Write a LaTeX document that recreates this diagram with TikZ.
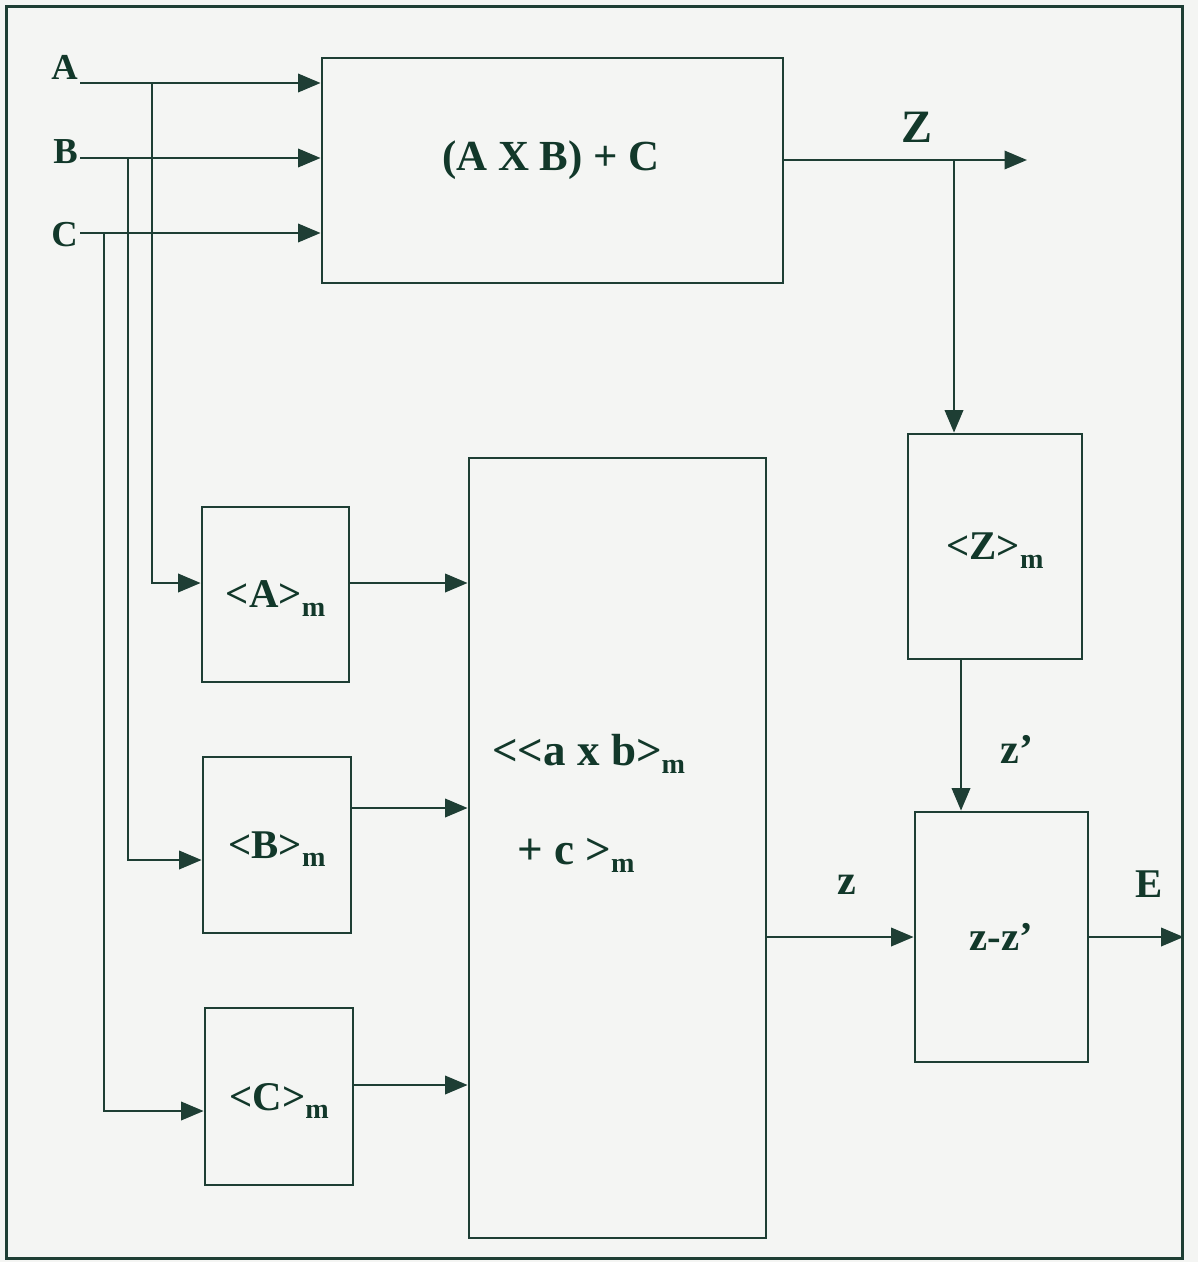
\documentclass[tikz,border=0pt]{standalone}
\usepackage{fontspec}
\setmainfont{Liberation Serif}
\usetikzlibrary{arrows.meta,positioning}
\definecolor{ink}{RGB}{18,56,42}
\definecolor{wirec}{RGB}{30,62,52}
\definecolor{paper}{RGB}{244,245,243}
\newcommand{\sigfont}[1]{\fontsize{#1}{#1}\selectfont\bfseries}
\newcommand{\subm}{\raisebox{-6pt}{\fontsize{20}{20}\selectfont m}}
\tikzset{
  blk/.style={rectangle, draw=wirec, line width=1.9pt, fill=paper, inner sep=0pt,
    font=\sigfont{29}, text=ink, text depth=0pt},
  flow/.style={-{Triangle[length=16pt,width=13pt]}, draw=wirec, line width=1.9pt},
  sig/.style={font=\sigfont{29}, text=ink, inner sep=0pt},
}

\begin{document}
\begin{tikzpicture}[x=0.025cm, y=-0.025cm]
\fill[paper] (0,0) rectangle (1198,1262);
\useasboundingbox (0,0) rectangle (1198,1262);
% outer frame
\node[blk, line width=2.1pt, minimum width=29.375cm, minimum height=31.275cm] at (594.5,632.5) (frame) {};
% blocks
\node[blk, minimum width=11.525cm, minimum height=5.625cm] at (552.5,170.5) (mab) {};
\node[blk, minimum width=3.675cm, minimum height=4.375cm] at (275.5,594.5) (ma) {<A>\subm};
\node[blk, minimum width=3.7cm, minimum height=4.4cm] at (277,845) (mb) {<B>\subm};
\node[blk, minimum width=3.7cm, minimum height=4.425cm] at (279,1096.5) (mc) {<C>\subm};
\node[blk, minimum width=7.425cm, minimum height=19.5cm] at (617.5,848) (mabc) {};
\node[blk, minimum width=4.35cm, minimum height=5.625cm] at (995,546.5) (mz) {<Z>\subm};
\node[blk, minimum width=4.325cm, minimum height=6.25cm] at (1001.5,937) (diff) {z-z’};
% block texts
\node[sig, font=\sigfont{30.5}, anchor=base] at (551,170) (mabt) {(A X B) + C};
\node[sig, font=\sigfont{32}, anchor=base west] at (492,765) (mabc1) {<{}<a x b>\subm};
\node[sig, font=\sigfont{32}, anchor=base west] at (517,864) (mabc2) {+ c >\subm};
% signal labels
\node[sig, font=\sigfont{26}, anchor=base east] at (78,80) (la) {A};
\node[sig, font=\sigfont{26}, anchor=base east] at (78,163) (lb) {B};
\node[sig, font=\sigfont{26}, anchor=base east] at (78,246) (lc) {C};
\node[sig, font=\sigfont{33}, anchor=base] at (917,142) (lz) {Z};
\node[sig, font=\sigfont{30}, anchor=base] at (847,894) (lzl) {z};
\node[sig, font=\sigfont{30}, anchor=base] at (1017,763) (lzp) {z’};
\node[sig, anchor=base] at (1149,897) (le) {E};
% wire points
\coordinate (ina) at (80,83);
\coordinate (inb) at (80,158);
\coordinate (inc) at (80,233);
\coordinate (ja) at (152,83);
\coordinate (jb) at (128,158);
\coordinate (jc) at (104,233);
\coordinate (ya) at (0,583);
\coordinate (ybi) at (0,860);
\coordinate (ybo) at (0,808);
\coordinate (yci) at (0,1111);
\coordinate (yco) at (0,1085);
\coordinate (zo) at (1027,160);
\coordinate (jz) at (954,160);
\coordinate (xz) at (961,0);
% flows
\draw[flow] (ina) -- (ina -| mab.west);
\draw[flow] (inb) -- (inb -| mab.west);
\draw[flow] (inc) -- (inc -| mab.west);
\draw[flow] (ja) |- (ma.west |- ya);
\draw[flow] (jb) |- (mb.west |- ybi);
\draw[flow] (jc) |- (mc.west |- yci);
\draw[flow] (ma.east |- ya) -- (mabc.west |- ya);
\draw[flow] (mb.east |- ybo) -- (mabc.west |- ybo);
\draw[flow] (mc.east |- yco) -- (mabc.west |- yco);
\draw[flow] (mab.east |- zo) -- (zo);
\draw[flow] (jz) -- (jz |- mz.north);
\draw[flow] (mz.south -| xz) -- (diff.north -| xz);
\draw[flow] (mabc.east |- diff.west) -- (diff.west);
\draw[flow] (diff.east) -- (diff.east -| frame.east);
\end{tikzpicture}
\end{document}
